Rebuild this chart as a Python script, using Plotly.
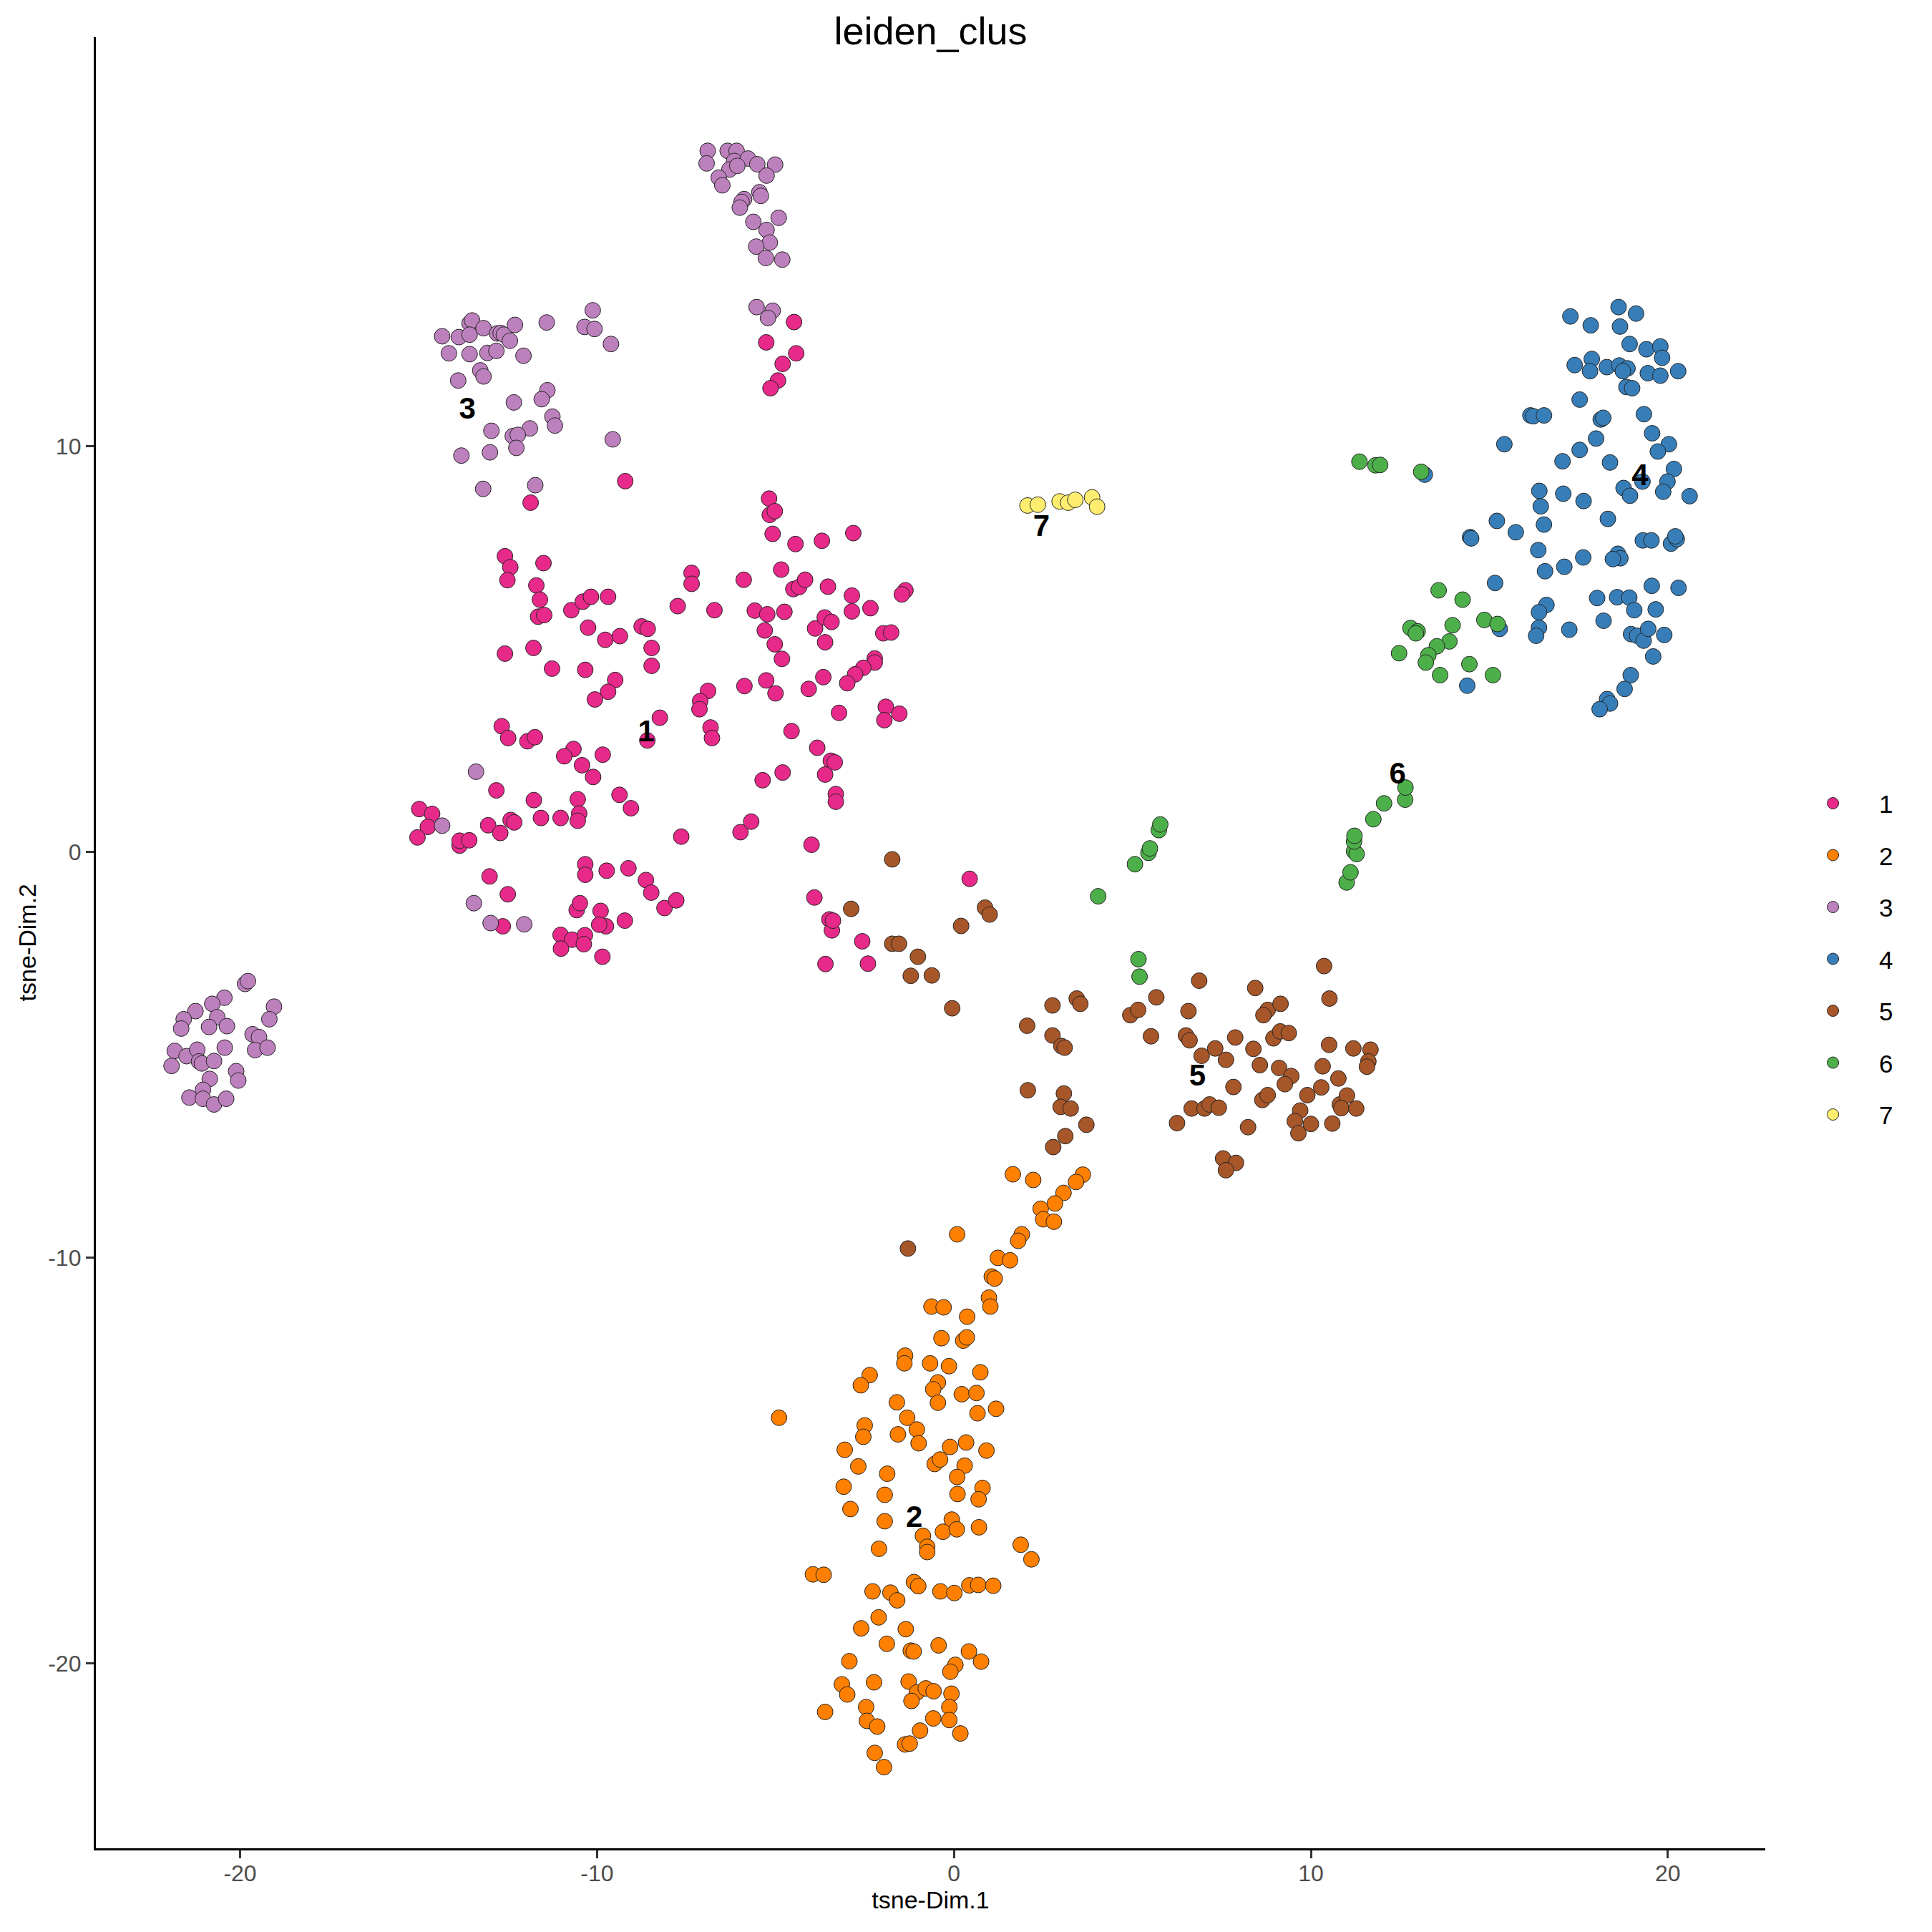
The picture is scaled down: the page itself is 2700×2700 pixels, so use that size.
"""t-SNE scatter of leiden clusters, ggplot-classic look in Plotly."""
import plotly.graph_objects as go

# ---- data ----
clus1_x = [-4.48, -5.26, -4.42, -4.80, -4.93, -5.14,
           -9.21, -11.86, -12.58, -12.43, -12.51, -11.50, -11.70, -11.60, -11.65, -11.48,
           -10.72, -10.40, -10.17, -9.69, -10.25, -9.77, -9.36, -8.75, -8.58, -8.47,
           -8.47, -12.58, -11.78, -11.26, -10.33, -9.49, -9.69, -10.06, -8.24, -8.59,
           -7.35, -7.35, -7.74, -6.71, -5.89, -5.58, -6.89, -7.11, -7.13, -6.82,
           -6.78, -5.87, -12.67, -12.49, -11.95, -11.74, -10.66, -10.92, -10.42, -10.11,
           -9.84, -12.82, -14.98, -14.62, -14.74, -15.03, -13.85, -13.85, -13.58, -13.05,
           -12.71, -12.42, -12.32, -11.77, -11.57, -11.02, -10.54, -10.50, -10.54, -9.37,
           -9.05, -7.64, -5.98, -5.68, -13.01, -12.50, -10.33, -10.33, -9.73, -9.12,
           -8.63, -8.48, -8.11, -7.78, -10.57, -10.48, -9.90, -9.75, -9.94, -9.22,
           -12.64, -11.02, -10.70, -10.34, -10.37, -11.01, -9.85,
           -5.18, -5.16, -5.02, -5.08, -4.44, -3.70, -2.82, -4.84, -4.50, -4.34,
           -4.17, -3.53, -2.86, -1.36, -1.46, -5.23, -4.75, -5.30, -5.02, -4.82,
           -3.89, -3.62, -3.43, -3.61, -2.86, -2.34, -1.98, -1.76, -2.22, -2.22,
           -2.54, -2.77, -2.99, -5.26, -5.00, -4.07, -3.66, -3.22, -1.91, -1.95,
           -1.53, -4.55, -3.83, -3.45, -3.34, -3.61, -3.31, -3.31, -5.36, -4.80,
           -3.99, 0.44, -3.91, -3.49, -3.42, -3.39, -2.57, -3.60, -2.41]
clus1_y = [13.06, 12.56, 12.29, 12.03, 11.62, 11.43,
           9.14, 8.61, 7.29, 7.02, 6.70, 7.12, 6.57, 6.22, 5.80, 5.84,
           5.96, 6.17, 6.29, 6.29, 5.53, 5.23, 5.32, 5.56, 5.50, 5.03,
           4.59, 4.89, 5.03, 4.52, 4.49, 4.24, 3.95, 3.76, 3.31, 2.75,
           6.88, 6.61, 6.06, 5.96, 6.71, 5.95, 3.97, 3.72, 3.52, 3.07,
           2.81, 4.09, 3.10, 2.81, 2.73, 2.83, 2.54, 2.36, 2.14, 1.85,
           2.40, 1.52, 1.06, 0.94, 0.62, 0.36, 0.16, 0.28, 0.29, 0.66,
           0.47, 0.79, 0.73, 1.28, 0.84, 0.84, 1.30, 0.95, 0.77, 1.41,
           1.08, 0.38, 0.49, 0.75, -0.60, -1.04, -0.30, -0.56, -0.46, -0.40,
           -0.69, -1.00, -1.38, -1.19, -1.43, -1.26, -1.45, -1.83, -1.79, -1.69,
           -1.83, -2.04, -2.16, -2.05, -2.27, -2.38, -2.58,
           8.71, 8.31, 8.40, 7.84, 7.59, 7.67, 7.86, 6.96, 6.48, 6.53,
           6.71, 6.54, 6.32, 6.45, 6.35, 5.86, 5.92, 5.46, 5.12, 4.76,
           5.51, 5.78, 5.67, 5.17, 5.93, 6.01, 5.39, 5.41, 4.77, 4.67,
           4.54, 4.38, 4.16, 4.23, 3.91, 4.02, 4.31, 3.43, 3.58, 3.25,
           3.41, 2.98, 2.57, 2.25, 2.21, 1.91, 1.43, 1.24, 1.77, 1.96,
           0.18, -0.66, -1.12, -1.66, -1.93, -1.69, -2.20, -2.76, -2.75]

clus2_x = [1.65, 2.22, 3.61, 3.42, 3.07, 0.09, 2.43, 2.50, 2.80, 2.83,
           1.90, 1.80, 1.23, 1.57, 1.06, 1.14, 0.98, 1.02, -0.63, -0.29,
           0.37, -0.35, 0.26, 0.36, -1.37, -1.39, -0.67, -0.14, 0.74, -2.36,
           -2.61, -0.45, -0.58, -0.45, 0.22, 0.63, 0.66, 1.18, -4.90, -1.60,
           -1.31, -2.50, -2.54, -1.57, -1.04, -0.99, -3.06, -2.68, -3.09, -2.90,
           -1.87, -1.94, -1.94, -0.54, -0.39, -0.11, 0.34, 0.91, 0.30, 0.09,
           0.10, 0.80, 0.69, -0.06, -0.31, 0.08, 0.70, -0.87, -0.75, -0.75,
           -2.10, 1.87, 2.17, -3.95, -3.65, -2.28, -1.78, -1.59, -1.12, -1.00,
           -0.38, 0.01, 0.43, 0.68, 1.10, -2.11, -2.60, -1.35, -1.88, -1.21,
           -1.13, -0.43, 0.42, 0.76, 0.04, -0.10, -2.93, -3.14, -2.99, -2.24,
           -1.27, -1.04, -1.19, -0.79, -0.57, -0.07, -0.13, -0.13, -0.58, 0.18,
           -3.61, -2.46, -2.44, -2.15, -0.95, -1.37, -1.24, -2.22, -1.96]
clus2_y = [-7.94, -8.08, -7.95, -8.13, -8.40, -9.42, -8.79, -9.05, -9.11, -8.66,
           -9.42, -9.58, -10.00, -10.06, -10.46, -10.51, -10.98, -11.20, -11.20, -11.22,
           -11.45, -11.98, -12.04, -11.96, -12.41, -12.60, -12.60, -12.67, -12.82, -12.89,
           -13.14, -13.07, -13.24, -13.57, -13.36, -13.33, -13.83, -13.72, -13.94, -13.56,
           -13.94, -14.13, -14.41, -14.35, -14.23, -14.57, -14.73, -15.14, -15.64, -16.19,
           -15.32, -15.84, -16.49, -15.08, -14.97, -14.66, -14.55, -14.75, -15.12, -15.40,
           -15.82, -15.67, -15.95, -16.45, -16.75, -16.69, -16.64, -16.85, -17.12, -17.25,
           -17.17, -17.07, -17.43, -17.80, -17.81, -18.22, -18.25, -18.44, -17.99, -18.09,
           -18.22, -18.26, -18.07, -18.06, -18.08, -18.86, -19.13, -19.15, -19.51, -19.68,
           -19.70, -19.55, -19.70, -19.95, -20.03, -20.20, -19.94, -20.51, -20.76, -20.46,
           -20.44, -20.71, -20.92, -20.61, -20.68, -20.74, -21.07, -21.39, -21.35, -21.72,
           -21.19, -21.07, -21.41, -21.55, -21.65, -21.99, -21.97, -22.20, -22.55]

clus3_x = [-6.90, -6.93, -6.34, -6.09, -6.16, -5.77, -5.51, -5.01, -6.29, -6.07,
           -6.59, -6.49, -5.25, -5.45, -5.41, -5.88, -5.95, -6.00, -5.62, -4.91,
           -5.25, -5.16, -5.54, -5.27, -4.81, -5.53, -5.08, -5.21,
           -14.34, -13.87, -13.57, -13.50, -13.57, -13.18, -12.80, -12.70, -12.61, -12.44,
           -12.30, -11.41, -10.35, -10.12, -10.07, -9.61, -14.15, -13.57, -13.07, -12.82,
           -12.06, -13.27, -13.18, -13.89, -11.39, -11.55, -12.33, -11.25, -11.18, -11.88,
           -12.96, -12.36, -12.22, -12.26, -13.00, -13.80, -9.56, -13.19, -11.73,
           -13.39, -14.34, -13.45, -12.98, -12.04,
           -19.86, -19.78, -20.44, -20.78, -21.25, -21.58, -21.65, -20.64, -20.87, -20.37,
           -19.05, -19.18, -19.65, -19.47, -19.58, -19.23, -20.43, -21.83, -21.92, -21.50,
           -21.20, -21.15, -21.07, -20.73, -20.11, -20.05, -20.85, -21.04, -21.42, -21.04,
           -20.73, -20.39]
clus3_y = [17.28, 16.97, 17.28, 17.28, 17.03, 17.09, 16.95, 16.94, 16.82, 16.91,
           16.62, 16.43, 16.67, 16.26, 16.17, 16.09, 16.02, 15.88, 15.53, 15.63,
           15.33, 15.02, 14.92, 14.64, 14.60, 13.43, 13.34, 13.16,
           12.71, 12.69, 13.03, 13.10, 12.75, 12.91, 12.78, 12.79, 12.75, 12.60,
           12.99, 13.05, 12.94, 13.35, 12.89, 12.52, 12.29, 12.27, 12.30, 12.35,
           12.23, 11.87, 11.72, 11.62, 11.38, 11.16, 11.08, 10.73, 10.51, 10.44,
           10.38, 10.25, 10.28, 9.96, 9.85, 9.77, 10.17, 8.95, 9.04,
           1.98, 0.65, -1.26, -1.75, -1.78,
           -3.25, -3.18, -3.59, -3.74, -3.92, -4.12, -4.35, -4.07, -4.31, -4.29,
           -3.81, -4.12, -4.49, -4.56, -4.88, -4.82, -4.82, -4.90, -5.27, -5.03,
           -4.87, -5.16, -5.21, -5.15, -5.40, -5.63, -5.59, -5.86, -6.05, -6.08,
           -6.22, -6.08]

clus4_x = [17.27, 17.84, 18.62, 19.11, 18.66, 18.93, 19.40, 19.79, 19.84, 17.39,
           17.87, 17.82, 18.29, 18.64, 18.87, 18.74, 19.44, 19.79, 20.29, 18.84,
           19.00, 17.53, 16.15, 16.23, 16.53, 18.12, 18.19, 19.33, 19.56, 20.03,
           19.72, 15.42, 17.99, 17.53, 17.05, 18.38, 20.17, 19.99, 19.87, 20.61,
           19.29, 18.76, 18.94, 16.40, 16.44, 17.07, 17.64, 15.21, 15.74, 16.53,
           14.46, 14.49, 18.32, 19.30, 19.54, 20.09, 20.25, 20.21, 16.37, 17.63,
           18.60, 18.67, 18.46, 17.10, 16.56, 15.16, 19.55, 20.30, 18.02, 18.58,
           18.92, 19.06, 19.66, 16.60, 16.39, 16.39, 16.31, 17.24, 18.20, 18.97,
           19.14, 19.32, 19.45, 19.90, 19.59, 18.96, 18.79, 18.30, 18.38, 18.09,
           13.19, 15.29, 14.38]
clus4_y = [13.20, 12.98, 13.43, 13.27, 12.95, 12.52, 12.39, 12.46, 12.18, 12.00,
           12.15, 11.85, 11.95, 11.99, 11.92, 11.85, 11.80, 11.74, 11.85, 11.46,
           11.43, 11.15, 10.76, 10.74, 10.76, 10.66, 10.70, 10.79, 10.32, 10.05,
           9.87, 10.05, 10.19, 9.91, 9.63, 9.60, 9.44, 9.13, 8.88, 8.77,
           9.13, 8.97, 8.78, 8.90, 8.52, 8.83, 8.65, 8.16, 7.88, 8.07,
           7.76, 7.73, 8.21, 7.68, 7.68, 7.60, 7.71, 7.78, 7.44, 7.26,
           7.35, 7.24, 7.22, 7.03, 6.92, 6.63, 6.56, 6.51, 6.26, 6.28,
           6.27, 5.96, 5.98, 6.09, 5.91, 5.53, 5.33, 5.48, 5.70, 5.37,
           5.33, 5.21, 5.50, 5.35, 4.82, 4.36, 4.02, 3.77, 3.66, 3.52,
           9.30, 5.50, 4.10]

clus5_x = [-1.73, -2.88, 0.20, 0.87, 1.00, -1.73, -1.54, -1.01, -1.21, -0.62,
           -0.05, -1.29,
           2.76, 3.44, 3.54, 2.05, 2.76, 3.01, 3.10, 2.07, 3.08, 2.99,
           3.27, 3.71, 3.12, 2.78, 4.94, 5.16, 5.67, 5.52, 6.87, 6.57,
           6.50, 6.60, 6.94, 7.32, 7.62, 7.88, 8.44, 8.79, 8.67, 9.15,
           8.39, 8.95, 9.14, 9.38, 8.57, 9.11, 9.45, 9.27, 7.83, 8.64,
           8.79, 6.66, 7.02, 7.16, 7.42, 6.25, 8.24, 7.54, 7.90, 7.62,
           10.37, 10.52, 10.51, 11.19, 11.67, 11.61, 11.57, 10.33, 10.77, 9.90,
           10.29, 9.70, 9.55, 10.00, 9.65, 10.60, 10.81, 11.01, 10.85, 11.27]
clus5_y = [-0.18, -1.40, -1.82, -1.37, -1.54, -2.26, -2.26, -2.58, -3.05, -3.04,
           -3.85, -9.77,
           -3.78, -3.61, -3.74, -4.28, -4.52, -4.78, -4.82, -5.87, -5.95, -6.28,
           -6.32, -6.72, -7.00, -7.27, -4.02, -3.89, -3.58, -4.54, -3.17, -3.92,
           -4.52, -4.64, -5.02, -4.84, -5.12, -4.57, -3.35, -3.89, -4.02, -3.74,
           -4.85, -4.59, -4.42, -4.46, -5.25, -5.32, -5.52, -5.72, -5.79, -6.11,
           -5.99, -6.32, -6.32, -6.22, -6.30, -6.68, -6.78, -7.55, -7.66, -7.84,
           -2.81, -3.61, -4.75, -4.84, -4.87, -5.16, -5.29, -5.28, -5.58, -5.99,
           -5.80, -6.37, -6.63, -6.70, -6.93, -6.69, -6.22, -6.00, -6.31, -6.32]

clus6_x = [4.04, 5.07, 5.45, 5.49, 5.74, 5.78, 5.17, 5.20,
           11.00, 11.11, 11.21, 11.28, 11.21, 11.22, 11.75, 12.05, 12.64, 12.65,
           11.36, 11.81, 11.94, 13.09,
           13.58, 14.25, 14.86, 15.23, 13.97, 12.79, 12.99, 12.94, 13.88, 13.53,
           13.29, 13.22, 12.47, 14.44, 13.62, 15.10]
clus6_y = [-1.09, -0.30, -0.02, 0.09, 0.54, 0.68, -2.64, -3.07,
           -0.75, -0.50, 0.02, -0.05, 0.26, 0.40, 0.81, 1.20, 1.29, 1.59,
           9.62, 9.53, 9.54, 9.37,
           6.45, 6.22, 5.72, 5.62, 5.59, 5.52, 5.44, 5.39, 5.19, 5.07,
           4.85, 4.67, 4.90, 4.63, 4.36, 4.36]

clus7_x = [2.06, 2.35, 2.96, 3.20, 3.40, 3.87, 4.01]
clus7_y = [8.54, 8.56, 8.64, 8.61, 8.68, 8.74, 8.51]

cluster_names = ["1", "2", "3", "4", "5", "6", "7"]
cluster_colors = ["#E7298A", "#FF7F00", "#BC80BD", "#377EB8", "#A65628", "#4DAF4A", "#FFED6F"]
cluster_x = [clus1_x, clus2_x, clus3_x, clus4_x, clus5_x, clus6_x, clus7_x]
cluster_y = [clus1_y, clus2_y, clus3_y, clus4_y, clus5_y, clus6_y, clus7_y]

# cluster centre labels
label_x = [-8.62, -1.11, -13.63, 19.22, 6.82, 12.43, 2.45]
label_y = [2.91, -16.45, 10.86, 9.22, -5.56, 1.87, 7.98]

x_ticks = [-20, -10, 0, 10, 20]
x_tick_text = ["-20", "-10", "0", "10", "20"]
y_ticks = [-20, -10, 0, 10]
y_tick_text = ["-20", "-10", "0", "10"]

FONT = "Liberation Sans, Arial, sans-serif"

fig = go.Figure()

for name, col, xs, ys in zip(cluster_names, cluster_colors, cluster_x, cluster_y):
    fig.add_trace(go.Scatter(
        x=xs, y=ys, mode="markers", name=name, legendgroup=name,
        marker=dict(color=col, size=22, line=dict(color="#262626", width=1)),
    ))

fig.add_trace(go.Scatter(
    x=label_x, y=label_y, mode="text", text=cluster_names,
    textfont=dict(family=FONT, size=42, color="black", weight="bold"),
    showlegend=False, hoverinfo="skip",
))

axis_common = dict(
    showgrid=False, zeroline=False, automargin=False,
    showline=True, linecolor="black", linewidth=3.3,
    ticks="outside", ticklen=11, tickwidth=3.3, tickcolor="#333333",
    tickfont=dict(family=FONT, size=32, color="#4D4D4D"),
)

# the page body adds an 8px offset, so margins are shifted to compensate
fig.update_layout(
    width=2700, height=2700,
    paper_bgcolor="white", plot_bgcolor="white",
    margin=dict(l=126, r=241, t=44, b=125),
    title=dict(text="leiden_clus", x=0.5, xref="paper", xanchor="center",
               y=1 - 35.5 / 2700, yanchor="middle", yref="container",
               font=dict(family=FONT, size=54, color="black")),
    xaxis=dict(range=[-24.04, 22.73], tickvals=x_ticks, ticktext=x_tick_text,
               ticklabelstandoff=-7,
               title=dict(text="tsne-Dim.1", standoff=8,
                          font=dict(family=FONT, size=34, color="black")),
               **axis_common),
    yaxis=dict(range=[-24.55, 20.08], tickvals=y_ticks, ticktext=y_tick_text,
               **axis_common),
    legend=dict(x=1.0129, xanchor="left", y=0.491, yanchor="middle",
                font=dict(family=FONT, size=35, color="black"),
                tracegroupgap=24, itemwidth=119, bgcolor="rgba(0,0,0,0)"),
    showlegend=True,
)

# y-axis title placed by hand (plotly's standoff cannot bring it close enough)
fig.add_annotation(
    text="tsne-Dim.2", textangle=-90, showarrow=False,
    xref="paper", x=-0.0412, xanchor="center",
    yref="paper", y=0.5, yanchor="middle",
    font=dict(family=FONT, size=34, color="black"),
)

fig.write_html("out.html")
